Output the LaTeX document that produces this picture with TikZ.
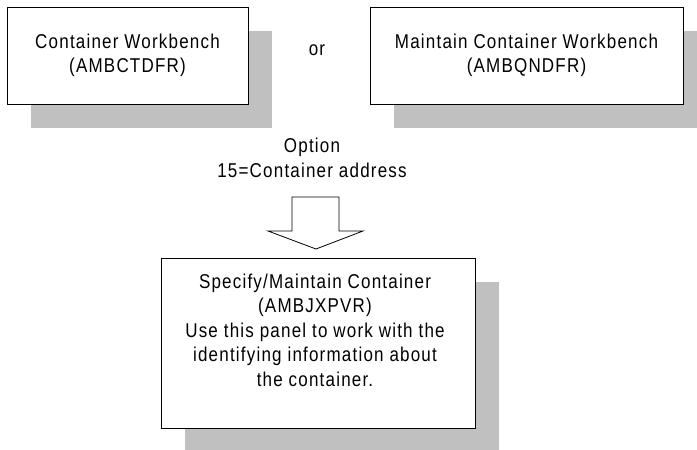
\documentclass[tikz,border=0pt]{standalone}
\usepackage{fontspec}
\setmainfont{Liberation Sans}[FakeStretch=0.85,LetterSpace=6]
\usetikzlibrary{shadows}
\definecolor{shadegray}{RGB}{192,192,192}
\begin{document}
\begin{tikzpicture}[x=1pt,y=-1pt,
  every node/.style={font=\fontsize{20}{24.5}\selectfont},
  panel/.style={draw,line width=1pt,fill=white,align=center,
    drop shadow={shadow xshift=24pt,shadow yshift=-24pt,fill=shadegray,opacity=1}},
  lbl/.style={align=center,inner sep=0pt}]
\useasboundingbox (0,0) rectangle (697,450);
\clip (0,0) rectangle (697,450);
\node[panel,minimum width=241pt,minimum height=97pt] (wb) at (127.5,55.5) {Container Workbench\\(AMBCTDFR)};
\node[panel,minimum width=313pt,minimum height=97pt] (mwb) at (526.5,55.5) {Maintain Container Workbench\\(AMBQNDFR)};
\node[lbl] (or) at (317,50) {or};
\node[lbl] (opt) at (312,158) {Option\\15=Container address};
\draw[line width=.8pt] (292,197) -- (339,197) -- (339,231) -- (363,231) -- (316,249) -- (268,231) -- (292,231) -- cycle;
\node[panel,minimum width=314pt,minimum height=170pt] (spec) at (318,343) {};
\node[lbl] (spectxt) at ([yshift=13pt,xshift=-3pt]spec.center) {Specify/Maintain Container\\(AMBJXPVR)\\Use this panel to work with the\\identifying information about\\the container.};
\end{tikzpicture}
\end{document}
